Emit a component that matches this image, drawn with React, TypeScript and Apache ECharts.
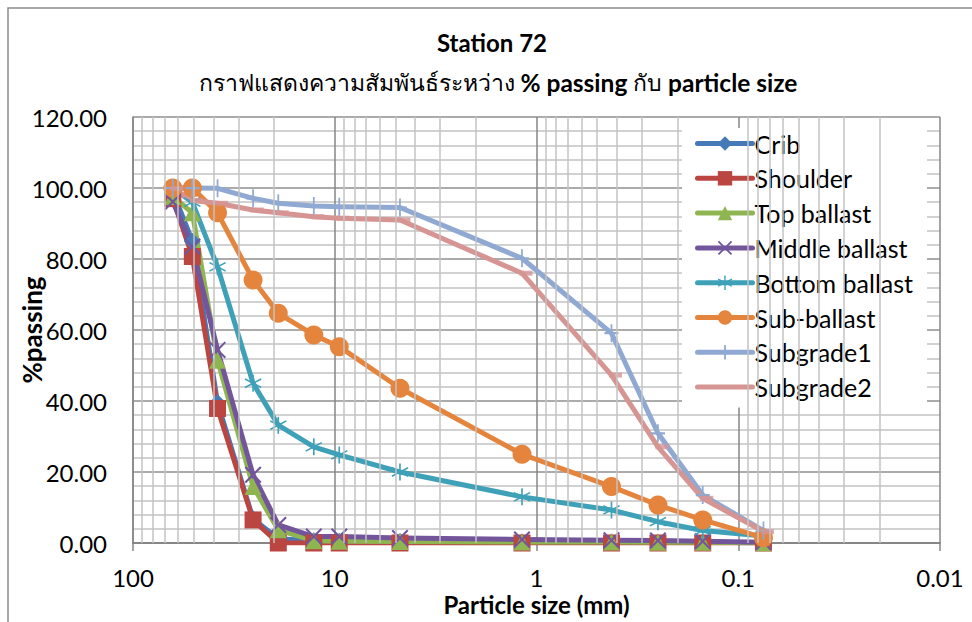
import React, { useEffect, useRef } from "react";
import * as echarts from "echarts";

// Sieve sizes (mm)
const sizes = [63.5, 50.8, 38.1, 25.4, 19.05, 12.7, 9.5, 4.75, 1.18, 0.425, 0.25, 0.15, 0.075];

const crib = [99, 85, 39.5, 6.8, 1.2, 0.6, 0.5, 0.4, 0.3, 0.3, 0.2, 0.2, 0.1];
const shoulder = [97, 80.7, 37.9, 6.5, 0, 0, 0, 0, 0, 0, 0, 0, 0];
const topBallast = [97.6, 93, 51.5, 15.9, 3.7, 0.6, 0.5, 0.4, 0.3, 0.3, 0.2, 0.2, 0.1];
const middleBallast = [96.1, 83.5, 54.4, 19.2, 5.1, 1.8, 1.8, 1.4, 1.0, 0.8, 0.7, 0.5, 0.2];
const bottomBallast = [100, 96, 77.8, 45, 33.2, 27.1, 24.8, 20, 13, 9.3, 6.0, 3.5, 2.0];
const subBallast = [100, 100, 93, 74.1, 64.7, 58.6, 55.3, 43.6, 25.0, 15.9, 10.7, 6.5, 1.5];
const subgrade1 = [100, 100, 99.9, 97.1, 95.7, 94.9, 94.7, 94.5, 80.2, 59.1, 30.9, 13.5, 3.5];
const subgrade2 = [99.8, 96.5, 95.7, 93.8, 93, 91.9, 91.5, 91, 76, 47.3, 27.1, 12.6, 3.2];

const seriesNames = ["Crib", "Shoulder", "Top ballast", "Middle ballast", "Bottom ballast", "Sub-ballast", "Subgrade1", "Subgrade2"];
const seriesValues = [crib, shoulder, topBallast, middleBallast, bottomBallast, subBallast, subgrade1, subgrade2];
const seriesColors = ["#4679B8", "#BA4541", "#8FB551", "#73559C", "#3EA1B8", "#E5843C", "#90A9D2", "#D69593"];

const xMinorTicks = [
  0.02, 0.03, 0.04, 0.05, 0.06, 0.07, 0.08, 0.09,
  0.2, 0.3, 0.4, 0.5, 0.6, 0.7, 0.8, 0.9,
  2, 3, 4, 5, 6, 7, 8, 9,
  20, 30, 40, 50, 60, 70, 80, 90,
];

const FONT = "Lato, 'Open Sans', 'Noto Sans', sans-serif";

const PLUS = "path://M7,0H9V7H16V9H9V16H7V9H0V7H7Z";
const XMARK = "path://M0,1.4L1.4,0L8,6.6L14.6,0L16,1.4L9.4,8L16,14.6L14.6,16L8,9.4L1.4,16L0,14.6L6.6,8Z";
const STAR = "path://M7.3,0H8.7V6.8L14.6,3.4L15.3,4.6L9.4,8L15.3,11.4L14.6,12.6L8.7,9.2V16H7.3V9.2L1.4,12.6L0.7,11.4L6.6,8L0.7,4.6L1.4,3.4L7.3,6.8Z";
const DASH = "path://M0,0H16V6H0Z";

const symbols: any[] = ["diamond", "rect", "triangle", XMARK, STAR, "circle", PLUS, "none"];
const symbolSizes: any[] = [17, 17, 17, 17, 17, 19, [14, 18], 0];

export default function App() {
  const ref = useRef<HTMLDivElement>(null);
  useEffect(() => {
    if (!ref.current) return;
    const chart = echarts.init(ref.current, undefined, { renderer: "svg" });
    const series: any[] = seriesNames.map((name, i) => ({
      name,
      type: "line",
      data: sizes.map((s, j) => [s, seriesValues[i][j]]),
      symbol: symbols[i],
      symbolSize: symbolSizes[i],
      showSymbol: symbols[i] !== "none",
      showAllSymbol: true,
      color: seriesColors[i],
      lineStyle: { width: 5, color: seriesColors[i], cap: "round", join: "round" },
      itemStyle: { color: seriesColors[i], borderWidth: 0 },
      emphasis: { disabled: true },
      z: 3,
    }));
    series.unshift({
      name: "minor-grid",
      type: "line",
      data: [],
      silent: true,
      z: 1,
      markLine: {
        silent: true,
        symbol: ["none", "none"],
        label: { show: false },
        emphasis: { disabled: true },
        lineStyle: { color: "#C3C3C3", width: 1.5, type: "solid" },
        data: xMinorTicks.map((v) => ({ xAxis: v })),
      },
    });
    // dash markers of Subgrade2 (drawn apart so that its legend key stays a plain line)
    series.push({
      name: "Subgrade2 markers",
      type: "scatter",
      data: sizes.map((s, j) => [s, subgrade2[j]]),
      symbol: DASH,
      symbolSize: [13, 5],
      symbolOffset: [4, 0],
      itemStyle: { color: seriesColors[7] },
      silent: true,
      z: 4,
    });
    const legendData = seriesNames.map((name) =>
      name === "Subgrade2"
        ? { name, itemStyle: { color: "rgba(0,0,0,0)", opacity: 0, borderWidth: 0 } }
        : { name }
    );
    chart.setOption({
      animation: false,
      backgroundColor: "#ffffff",
      textStyle: { fontFamily: FONT },
      grid: { left: 133, right: 32, top: 117, bottom: 79, containLabel: false, outerBoundsMode: "none" },
      graphic: [
        {
          type: "rect",
          shape: { x: 8, y: 8, width: 1000, height: 700 },
          style: { fill: "none", stroke: "#8C8C8C", lineWidth: 1.5 },
          silent: true,
          z: -10,
        },
        {
          type: "text",
          x: 492,
          y: 42,
          style: {
            text: "Station 72",
            font: `bold 24px ${FONT}`,
            fill: "#000",
            align: "center",
            verticalAlign: "middle",
          },
        },
        {
          type: "text",
          x: 498,
          y: 82,
          style: {
            text: "{t|กราฟแสดงความสัมพันธ์ระหว่าง }{b|% passing}{t| กับ }{b|particle size}",
            align: "center",
            verticalAlign: "middle",
            rich: {
              t: { fontFamily: FONT, fontSize: 23, fontWeight: "normal", fill: "#000" },
              b: { fontFamily: FONT, fontSize: 24.5, fontWeight: "bold", fill: "#000" },
            },
          },
        },
      ],
      legend: {
        orient: "vertical",
        left: 682,
        top: 128,
        data: legendData,
        backgroundColor: "#ffffff",
        padding: [3, 14, 8, 13],
        itemWidth: 55,
        itemHeight: 18,
        itemGap: 9.8,
        lineStyle: { width: 5 },
        textStyle: { fontFamily: FONT, fontSize: 25, color: "#000", lineHeight: 24, padding: [0, 0, 0, -3] },
        z: 5,
      },
      xAxis: {
        type: "log",
        logBase: 10,
        min: 0.01,
        max: 100,
        inverse: true,
        name: "Particle size (mm)",
        nameLocation: "middle",
        nameGap: 49,
        nameMoveOverlap: false,
        nameTextStyle: { fontFamily: FONT, fontSize: 24, fontWeight: "bold", color: "#000" },
        axisLine: { show: true, onZero: false, lineStyle: { color: "#868686", width: 2 } },
        axisTick: { show: true, length: 8, lineStyle: { color: "#868686", width: 1.5 } },
        axisLabel: {
          fontFamily: FONT,
          fontSize: 24,
          color: "#000",
          margin: 22,
          formatter: (v: number) => String(Number(v.toPrecision(1))),
        },
        splitLine: { show: true, lineStyle: { color: "#868686", width: 1.5 } },
      },
      yAxis: {
        type: "value",
        min: 0,
        max: 120,
        interval: 20,
        name: "%passing",
        nameLocation: "middle",
        nameGap: 88,
        nameMoveOverlap: false,
        nameTextStyle: { fontFamily: FONT, fontSize: 26, fontWeight: "bold", color: "#000" },
        axisLine: { show: true, lineStyle: { color: "#868686", width: 1.5 } },
        axisTick: { show: false },
        axisLabel: {
          fontFamily: FONT,
          fontSize: 24,
          color: "#000",
          margin: 26,
          formatter: (v: number) => v.toFixed(2),
        },
        splitLine: { show: true, lineStyle: { color: "#8F8F8F", width: 1.5 } },
        minorTick: { show: false, splitNumber: 5 },
        minorSplitLine: { show: true, lineStyle: { color: "#C3C3C3", width: 1.5 } },
      },
      series,
    });
    return () => chart.dispose();
  }, []);
  return (
    <div
      ref={ref}
      style={{ position: "absolute", left: 0, top: 0, width: 972, height: 622 }}
    />
  );
}
